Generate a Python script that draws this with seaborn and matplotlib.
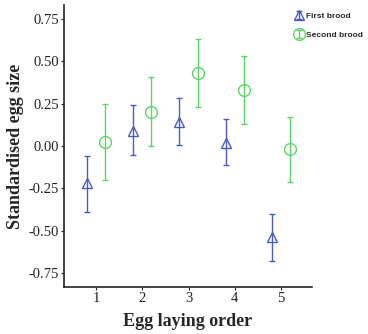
import matplotlib
matplotlib.use("Agg")
import matplotlib.pyplot as plt
import seaborn as sns
import pandas as pd

# Egg laying order and mean standardised egg size with 95% CI limits
order = [1, 2, 3, 4, 5]
first_mean = [-0.22, 0.09, 0.14, 0.02, -0.535]
first_low = [-0.39, -0.055, 0.005, -0.115, -0.675]
first_high = [-0.06, 0.24, 0.285, 0.16, -0.40]
second_mean = [0.025, 0.20, 0.43, 0.33, -0.02]
second_low = [-0.20, 0.0, 0.23, 0.13, -0.215]
second_high = [0.25, 0.405, 0.63, 0.53, 0.17]
broods = ["First brood", "Second brood"]

sns.set_style("white")
plt.rcParams["font.family"] = ["Liberation Serif", "DejaVu Serif"]

fig = plt.figure(figsize=(3.68, 3.34), dpi=100)
ax = fig.add_axes([0.174, 0.141, 0.674, 0.844])

blue = "#4a5cc4"
green = "#5ed46a"
series = [
    (broods[0], first_mean, first_low, first_high, -0.2, "^", blue, 7),
    (broods[1], second_mean, second_low, second_high, 0.2, "o", green, 8.5),
]
for name, mean, low, high, off, mk, col, ms in series:
    df = pd.DataFrame({"x": [o + off for o in order], "y": mean,
                       "lo": low, "hi": high})
    ax.errorbar(df["x"], df["y"],
                yerr=[df["y"] - df["lo"], df["hi"] - df["y"]],
                fmt=mk, mfc="none", mec=col, ms=ms, mew=1.0,
                ecolor=col, elinewidth=1.0, capsize=2.5, capthick=1.0,
                label=name)

ax.set_xlim(0.31, 5.67)
ax.set_ylim(-0.83, 0.83)
ax.set_xticks(order)
ax.set_yticks([-0.75, -0.5, -0.25, 0, 0.25, 0.5, 0.75])
ax.set_yticklabels(["-0.75", "-0.50", "-0.25", "0.00", "0.25", "0.50", "0.75"])
ax.tick_params(axis="both", labelsize=10.5, length=2.5, width=0.8,
               direction="out", left=True, bottom=True, colors="#222222",
               pad=1.2)
sns.despine(ax=ax)
for s in ["left", "bottom"]:
    ax.spines[s].set_color("#222222")
    ax.spines[s].set_linewidth(1.2)

ax.set_xlabel("Egg laying order", fontsize=13, fontweight="bold", labelpad=6)
ax.set_ylabel("Standardised egg size", fontsize=13, fontweight="bold", labelpad=3)

leg = ax.legend(loc="upper right", bbox_to_anchor=(1.23, 0.995), frameon=False,
                prop={"family": "Liberation Sans", "weight": "bold", "size": 6},
                handletextpad=0.4, labelspacing=1.3, handlelength=1.0,
                borderaxespad=0.3)

fig.savefig("out.png", dpi=100)
